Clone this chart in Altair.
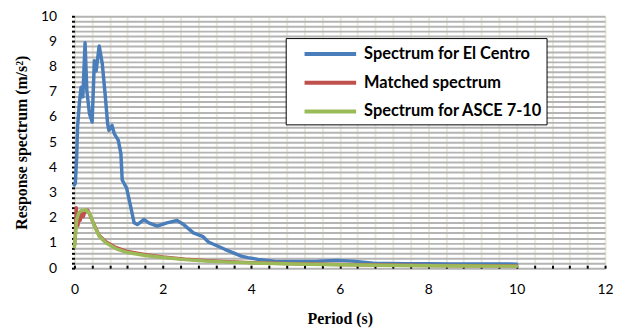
import altair as alt
import pandas as pd

# ---- data ----
t_elcentro = [0.0, 0.02, 0.05, 0.07, 0.11, 0.15, 0.19, 0.24, 0.28, 0.34, 0.40, 0.45, 0.49, 0.56,
              0.63, 0.70, 0.75, 0.78, 0.85, 0.90, 0.99, 1.05, 1.08, 1.18, 1.27, 1.35, 1.42, 1.57,
              1.68, 1.87, 2.09, 2.32, 2.47, 2.69, 2.91, 3.03, 3.4, 3.77, 3.92, 4.15, 4.52, 5.0,
              5.5, 5.94, 6.3, 6.76, 7.5, 7.96, 8.5, 9.0, 10.0]
s_elcentro = [3.3, 3.37, 4.42, 5.6, 6.52, 7.18, 6.8, 8.95, 7.05, 6.13, 5.8, 8.23, 7.83, 8.82,
              8.1, 6.78, 5.74, 5.47, 5.67, 5.34, 5.08, 4.55, 3.5, 3.18, 2.45, 1.8, 1.73, 1.93,
              1.8, 1.67, 1.8, 1.89, 1.73, 1.4, 1.25, 1.04, 0.75, 0.48, 0.42, 0.35, 0.28, 0.27,
              0.28, 0.31, 0.28, 0.2, 0.18, 0.18, 0.17, 0.17, 0.16]

t_matched = [0.0, 0.02, 0.04, 0.06, 0.08, 0.1, 0.13, 0.17, 0.2, 0.25, 0.3, 0.35, 0.45, 0.56,
             0.71, 0.93, 1.2, 1.6, 2.0, 2.5, 3.0, 3.5, 4.0, 5.0, 6.0, 7.0, 8.0, 9.0, 10.0]
s_matched = [0.9, 1.3, 2.4, 1.8, 1.7, 2.1, 1.9, 2.2, 2.05, 2.3, 2.3, 2.12, 1.7, 1.3,
             1.05, 0.82, 0.66, 0.53, 0.44, 0.36, 0.3, 0.26, 0.22, 0.18, 0.15, 0.13, 0.11, 0.1, 0.09]

t_asce = [0.0, 0.05, 0.1, 0.15, 0.26, 0.35, 0.45, 0.56, 0.71, 0.93, 1.2, 1.6, 2.0, 2.5,
          3.0, 3.5, 4.0, 5.0, 6.0, 7.0, 8.0, 9.0, 10.0]
s_asce = [0.85, 1.93, 2.2, 2.28, 2.32, 2.15, 1.67, 1.27, 1.01, 0.78, 0.62, 0.5, 0.42, 0.34,
          0.28, 0.24, 0.21, 0.17, 0.14, 0.12, 0.1, 0.09, 0.08]

series_names = ["Spectrum for El Centro", "Matched spectrum", "Spectrum for ASCE 7-10"]
series_colors = ["#4A7EBB", "#C0504D", "#9BBB59"]

x_ticks = [round(i * 0.4, 1) for i in range(31)]
y_ticks = [round(i * 0.2, 1) for i in range(51)]

rows = []
for name, ts, ss in zip(series_names,
                        [t_elcentro, t_matched, t_asce],
                        [s_elcentro, s_matched, s_asce]):
    for i, (t, s) in enumerate(zip(ts, ss)):
        rows.append({"series": name, "T": t, "S": s, "idx": i})
df = pd.DataFrame(rows)

chart = alt.Chart(df).mark_line(strokeWidth=3.5, strokeCap="round", strokeJoin="round").encode(
    x=alt.X("T:Q",
            scale=alt.Scale(domain=[0, 12], nice=False, zero=False),
            axis=alt.Axis(values=x_ticks, title="Period (s)",
                          labelExpr="datum.value % 2 == 0 ? format(datum.value, 'd') : ''",
                          grid=True, gridColor="#ECE8DA", gridWidth=2,
                          domain=False, ticks=True, tickSize=3, tickWidth=2, tickColor="black",
                          offset=-3, labelPadding=15, labelFlush=False, labelOverlap=False,
                          labelFont="Lato", labelFontSize=14, labelColor="black",
                          titleFont="Liberation Serif", titleFontSize=16, titleFontWeight="bold",
                          titleColor="black", titlePadding=14)),
    y=alt.Y("S:Q",
            scale=alt.Scale(domain=[0, 10], nice=False, zero=False),
            axis=alt.Axis(values=y_ticks, title="Response spectrum (m/s²)",
                          labelExpr="datum.value % 1 == 0 ? format(datum.value, 'd') : ''",
                          grid=True, gridColor="#B4B4B4", gridWidth=2,
                          domain=False, ticks=True, tickSize=3, tickWidth=2, tickColor="black",
                          labelPadding=15, labelOverlap=False,
                          labelFont="Lato", labelFontSize=14, labelColor="black",
                          titleFont="Liberation Serif", titleFontSize=16, titleFontWeight="bold",
                          titleColor="black", titlePadding=11, titleY=127, titleAlign="center")),
    color=alt.Color("series:N",
                    scale=alt.Scale(domain=series_names, range=series_colors),
                    legend=alt.Legend(orient="none", legendX=213, legendY=22, title=None,
                                      symbolType="M-2.6,0H2.6", symbolSize=400,
                                      symbolStrokeWidth=4, symbolOffset=29,
                                      labelFont="Lato", labelFontSize=16.5, labelFontWeight="bold",
                                      labelColor="black", labelLimit=400,
                                      fillColor="white", strokeColor="black",
                                      padding=4, rowPadding=8, labelOffset=22)),
    order=alt.Order("idx:Q"),
).properties(
    width=535, height=254,
    autosize=alt.AutoSizeParams(type="none"),
    padding={"left": 67, "top": 7, "right": 8, "bottom": 60},
).configure_view(
    stroke="black", strokeWidth=3
).configure(background="white")

chart.save("out.html", embed_options={"renderer": "svg", "actions": False})
